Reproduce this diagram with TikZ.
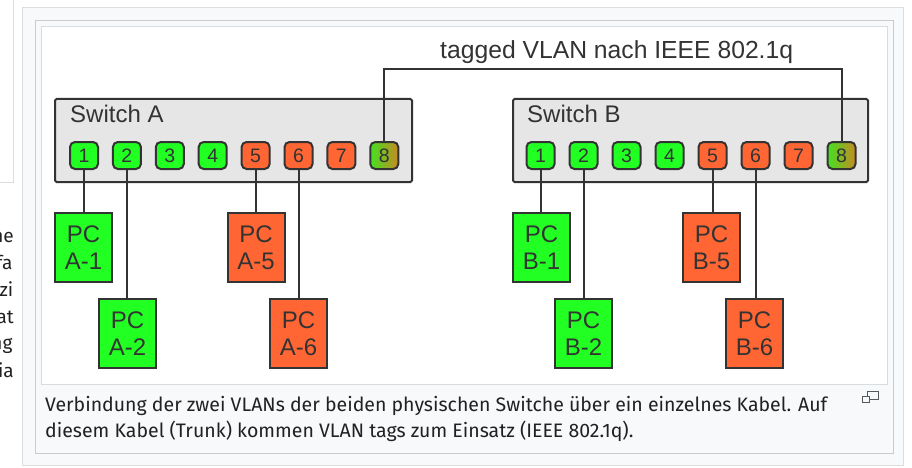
\documentclass[tikz,border=0pt]{standalone}
\usepackage{fontspec}
\setmainfont{Liberation Sans}
\newfontfamily\capfont{Fira Sans}
\definecolor{pgreen}{HTML}{22FF22}
\definecolor{porange}{HTML}{FF6633}
\definecolor{edgec}{HTML}{333333}
\definecolor{swgray}{HTML}{E6E6E6}
\definecolor{frameline}{HTML}{C8CCD1}
\definecolor{outerline}{HTML}{DCDDDE}
\definecolor{framebg}{HTML}{F8F9FA}
\definecolor{txt}{HTML}{202122}
\definecolor{icongray}{HTML}{54595D}
\definecolor{trunkgreen}{HTML}{44E022}
\definecolor{trunkbrown}{HTML}{C88A22}
\begin{document}
\begin{tikzpicture}[x=1pt,y=-1pt,
  port/.style={draw=edgec, line width=2pt, rounded corners=5pt, minimum width=28pt, minimum height=27pt, inner sep=0pt, font=\fontsize{19.5}{19.5}\selectfont, text=edgec},
  pcbox/.style={draw=edgec, line width=2pt, minimum width=57pt, minimum height=69pt, inner sep=0pt, align=center, font=\fontsize{24}{27}\selectfont, text=edgec},
  switchbox/.style={draw=edgec, fill=swgray, line width=2pt, rounded corners=1.5pt, minimum height=83pt, inner sep=0pt},
  wire/.style={draw=edgec, line width=2pt},
  bigtext/.style={font=\fontsize{24}{24}\selectfont, text=edgec, inner sep=0pt},
  captext/.style={font=\capfont\fontsize{19.5}{26}\selectfont, text=txt, inner sep=0pt},
  sidetext/.style={font=\capfont\fontsize{19}{26}\selectfont, text=txt, inner sep=0pt}]
\useasboundingbox (0,0) rectangle (912,468);
\fill[white] (0,0) rectangle (912,468);
% page side
\draw[outerline, line width=1pt] (13.5,0) -- (13.5,182.5) -- (0,182.5);
\node[sidetext, anchor=base east] (s1) at (14,242) {ne};
\node[sidetext, anchor=base east] (s2) at (12.7,269) {fa};
\node[sidetext, anchor=base east] (s3) at (13.5,296) {izi};
\node[sidetext, anchor=base east] (s4) at (14,323) {at};
\node[sidetext, anchor=base east] (s5) at (12.7,349) {ng};
\node[sidetext, anchor=base east] (s6) at (14,377) {Dia};
% frames
\draw[outerline, fill=framebg, line width=1pt] (22.5,7.5) rectangle (903.5,465.5);
\draw[frameline, fill=framebg, line width=1pt] (35.5,20.5) rectangle (893.5,453.5);
\draw[frameline!70, fill=white, line width=1pt] (41.5,26.5) rectangle (887.5,384.5);
% switches
\node[switchbox, minimum width=357pt] (SA) at (233.5,140.5) {};
\node[switchbox, minimum width=355pt] (SB) at (690.5,140.5) {};
\node[bigtext, anchor=base west] (SAl) at (70,122) {Switch A};
\node[bigtext, anchor=base west] (SBl) at (527,122) {Switch B};
% ports
\foreach \i in {1,...,4} {
  \node[port, fill=pgreen] (A\i) at ({84+(\i-1)*42.9},155.5) {\i};
  \node[port, fill=pgreen] (B\i) at ({540.5+(\i-1)*43},155.5) {\i};
}
\foreach \i in {5,...,7} {
  \node[port, fill=porange] (A\i) at ({84+(\i-1)*42.9},155.5) {\i};
  \node[port, fill=porange] (B\i) at ({540.5+(\i-1)*43},155.5) {\i};
}
\node[port, left color=trunkgreen, right color=trunkbrown] (A8) at ({84+7*42.9},155.5) {8};
\node[port, left color=trunkgreen, right color=trunkbrown] (B8) at ({540.5+7*43},155.5) {8};
% PCs
\node[pcbox, fill=pgreen]  (PA1) at (83.5,247.5) {PC\\A-1};
\node[pcbox, fill=pgreen]  (PA2) at (127.5,333.5) {PC\\A-2};
\node[pcbox, fill=porange] (PA5) at (256,247.5) {PC\\A-5};
\node[pcbox, fill=porange] (PA6) at (298.5,333.5) {PC\\A-6};
\node[pcbox, fill=pgreen]  (PB1) at (541.5,247.5) {PC\\B-1};
\node[pcbox, fill=pgreen]  (PB2) at (583.5,333.5) {PC\\B-2};
\node[pcbox, fill=porange] (PB5) at (711.5,247.5) {PC\\B-5};
\node[pcbox, fill=porange] (PB6) at (754.5,333.5) {PC\\B-6};
% links
\foreach \p/\q in {A1/PA1, A2/PA2, A5/PA5, A6/PA6, B1/PB1, B2/PB2, B5/PB5, B6/PB6} {
  \draw[wire] (\p.south) -- (\p.south |- \q.north);
}
% trunk
\coordinate (tk) at (600,69);
\draw[wire] (A8.north) -- (A8.north |- tk) -| (B8.north);
\node[bigtext, anchor=base west, font=\fontsize{24.7}{24.7}\selectfont] (lbl) at (440,59) {tagged VLAN nach IEEE 802.1q};
% caption
\node[captext, anchor=base west] (c1) at (45,411) {Verbindung der zwei VLANs der beiden physischen Switche über ein einzelnes Kabel. Auf};
\node[captext, anchor=base west] (c2) at (45,437) {diesem Kabel (Trunk) kommen VLAN tags zum Einsatz (IEEE 802.1q).};
% enlarge icon
\draw[icongray, line width=1.1pt] (867.5,391.5) rectangle (878.5,399.5);
\draw[icongray, fill=framebg, line width=1.1pt] (862.5,396.5) rectangle (869.5,402.5);
\end{tikzpicture}
\end{document}
